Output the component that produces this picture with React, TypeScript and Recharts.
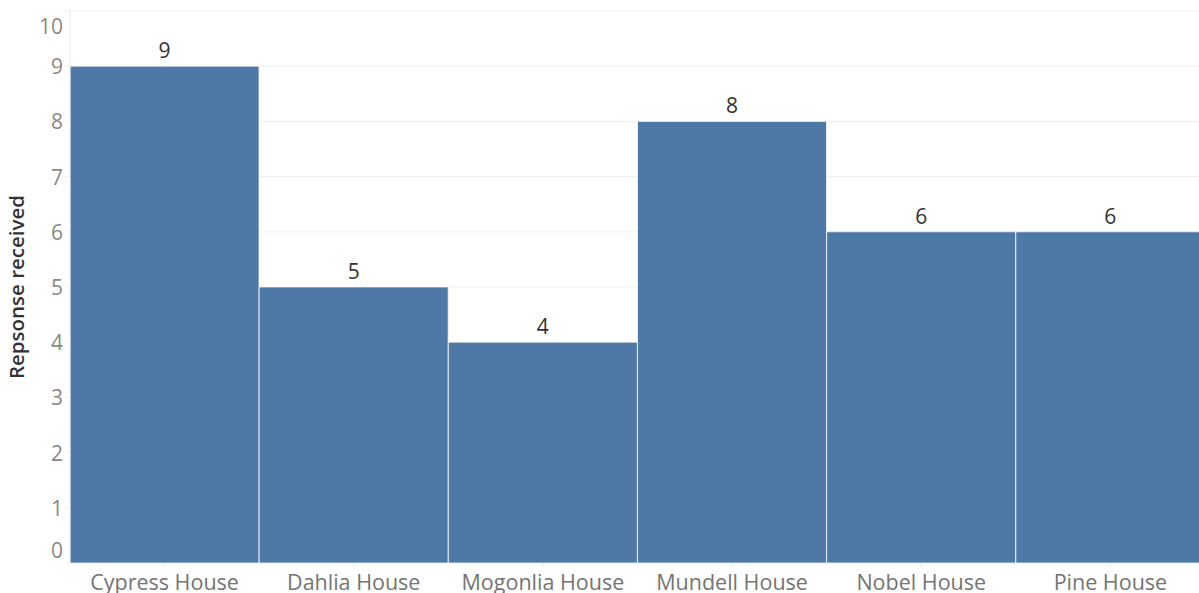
import React from "react";
import { BarChart, Bar, XAxis, YAxis, CartesianGrid, LabelList } from "recharts";

const houses = ["Cypress House", "Dahlia House", "Mogonlia House", "Mundell House", "Nobel House", "Pine House"];
const responses = [9, 5, 4, 8, 6, 6];
const yTicks = [0, 1, 2, 3, 4, 5, 6, 7, 8, 9, 10];

const data = houses.map((h, i) => ({ house: h, value: responses[i] }));

const FONT = "'Open Sans', sans-serif";

const YTick = (props: any) => {
  const { x, y, payload } = props;
  let dy = 8;
  if (payload.value === 0) dy = -5;
  if (payload.value === 10) dy = 23;
  return (
    <text x={x} y={y} dy={dy} textAnchor="end" fill="#8a8886" fontSize={21} fontFamily={FONT}>
      {payload.value}
    </text>
  );
};

const XTick = (props: any) => {
  const { x, y, payload } = props;
  return (
    <text x={x} y={y} dy={21} textAnchor="middle" fill="#747474" fontSize={21.5} fontFamily={FONT}>
      {payload.value}
    </text>
  );
};

export default function App() {
  return (
    <div style={{ position: "absolute", left: 0, top: 0, width: 1199, height: 593, overflow: "hidden", background: "#fff" }}>
      <BarChart
        width={1205}
        height={593}
        data={data}
        margin={{ top: 11, right: 0, left: 0, bottom: 0 }}
        barCategoryGap={0}
      >
        <CartesianGrid vertical={false} stroke="#efefef" />
        <XAxis
          dataKey="house"
          height={30}
          tick={<XTick />}
          tickLine={{ stroke: "#e6e6e6" }}
          tickSize={4}
          axisLine={false}
          interval={0}
        />
        <YAxis
          width={70}
          domain={[0, 10]}
          ticks={yTicks}
          interval={0}
          tick={<YTick />}
          tickLine={{ stroke: "#eeeeee" }}
          tickSize={5}
          axisLine={{ stroke: "#e6e6e6" }}
          label={{
            value: "Repsonse received",
            angle: -90,
            position: "insideLeft",
            dx: 12,
            dy: 0,
            style: { textAnchor: "middle", fill: "#333", fontSize: 20.5, fontWeight: 600, fontFamily: FONT },
          }}
        />
        <Bar dataKey="value" fill="#4e79a7" stroke="#ffffff" strokeOpacity={0.7} strokeWidth={1} isAnimationActive={false}>
          <LabelList dataKey="value" position="top" offset={8} fill="#333" fontSize={21} fontFamily={FONT} />
        </Bar>
      </BarChart>
    </div>
  );
}
